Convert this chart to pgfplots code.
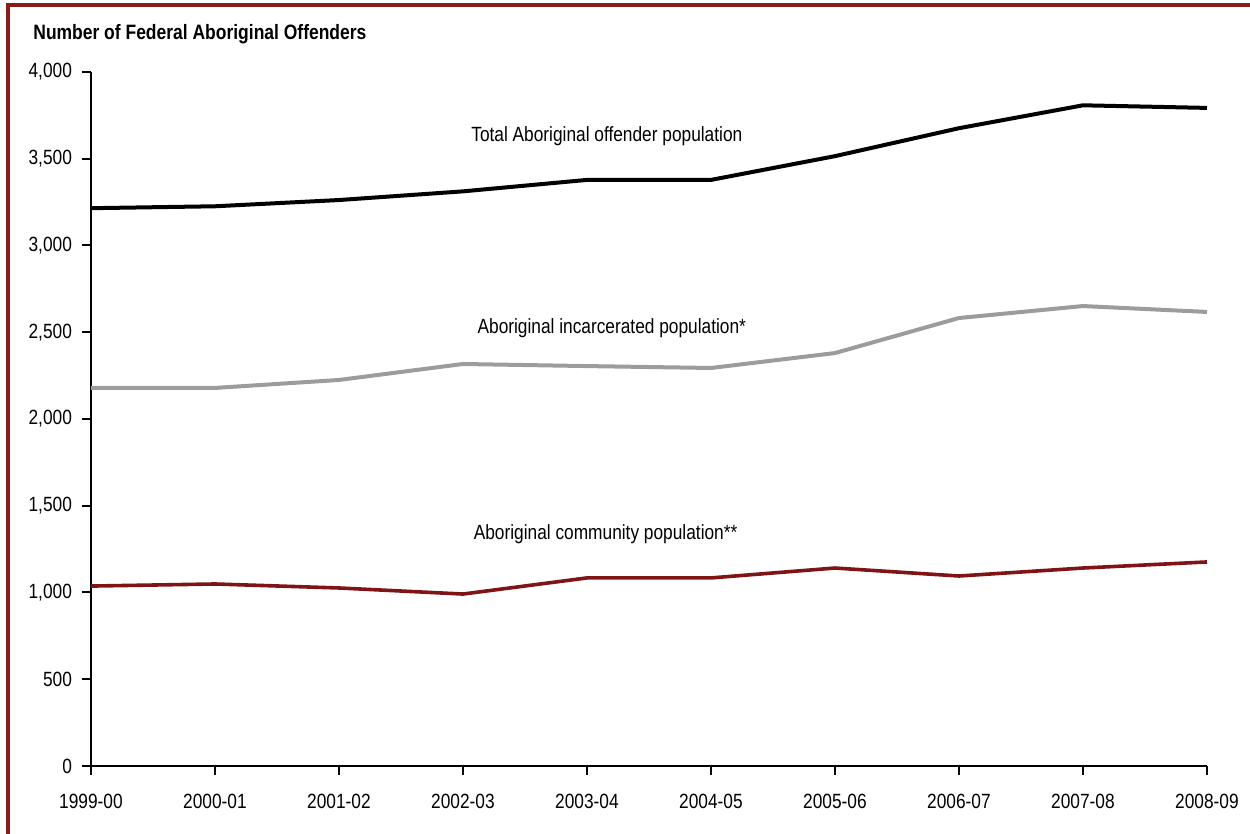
\documentclass[border=0pt]{standalone}
\usepackage{fontspec}
\setmainfont{Liberation Sans}[FakeStretch=0.84]
\usepackage{pgfplots}
\pgfplotsset{compat=1.18}
\definecolor{frame}{HTML}{8B1A1A}
\definecolor{comm}{HTML}{7F1416}
\definecolor{incar}{HTML}{9C9C9C}
\begin{document}
\begin{tikzpicture}[x=1pt,y=1pt]
\useasboundingbox (-45.5,-34) rectangle (579.5,383);
\draw[frame,line width=1.6pt] (-41.5,-34) -- (-41.5,380.5) -- (579.5,380.5);
\node[anchor=west,inner sep=0pt,font=\fontsize{10.4}{12}\selectfont\bfseries] at (-29,366) {Number of Federal Aboriginal Offenders};
\begin{axis}[
  at={(0,0)}, anchor=origin,
  scale only axis, width=558pt, height=347pt,
  xmin=0, xmax=9, ymin=0, ymax=4000,
  axis lines*=left,
  axis line style={line width=1pt,-},
  tick style={line width=1pt,black},
  tick align=outside,
  major tick length=4.5pt,
  xtick={0,...,9},
  xticklabels={1999-00,2000-01,2001-02,2002-03,2003-04,2004-05,2005-06,2006-07,2007-08,2008-09},
  ytick={0,500,...,4000},
  /pgf/number format/.cd, 1000 sep={,}, assume math mode=true,
  /pgfplots/.cd,
  ticklabel style={font=\fontsize{10.3}{12}\selectfont},
  xticklabel style={yshift=-6pt},
  yticklabel style={xshift=-1.5pt},
  clip=false,
]
\addplot[black, line width=2pt] coordinates {
(0,3215) (1,3226) (2,3262) (3,3312) (4,3378) (5,3378) (6,3515) (7,3676) (8,3808) (9,3793)};
\addplot[incar, line width=2pt] coordinates {
(0,2179) (1,2179) (2,2225) (3,2317) (4,2305) (5,2294) (6,2380) (7,2582) (8,2651) (9,2617)};
\addplot[comm, line width=1.8pt] coordinates {
(0,1037) (1,1049) (2,1026) (3,991) (4,1084) (5,1084) (6,1141) (7,1095) (8,1141) (9,1176)};
\node[font=\fontsize{10.3}{12}\selectfont] at (axis cs:4.16,3631) {Total Aboriginal offender population};
\node[font=\fontsize{10.3}{12}\selectfont] at (axis cs:4.2,2524) {Aboriginal incarcerated population*};
\node[font=\fontsize{10.3}{12}\selectfont] at (axis cs:4.15,1337) {Aboriginal community population**};
\end{axis}
\end{tikzpicture}
\end{document}
